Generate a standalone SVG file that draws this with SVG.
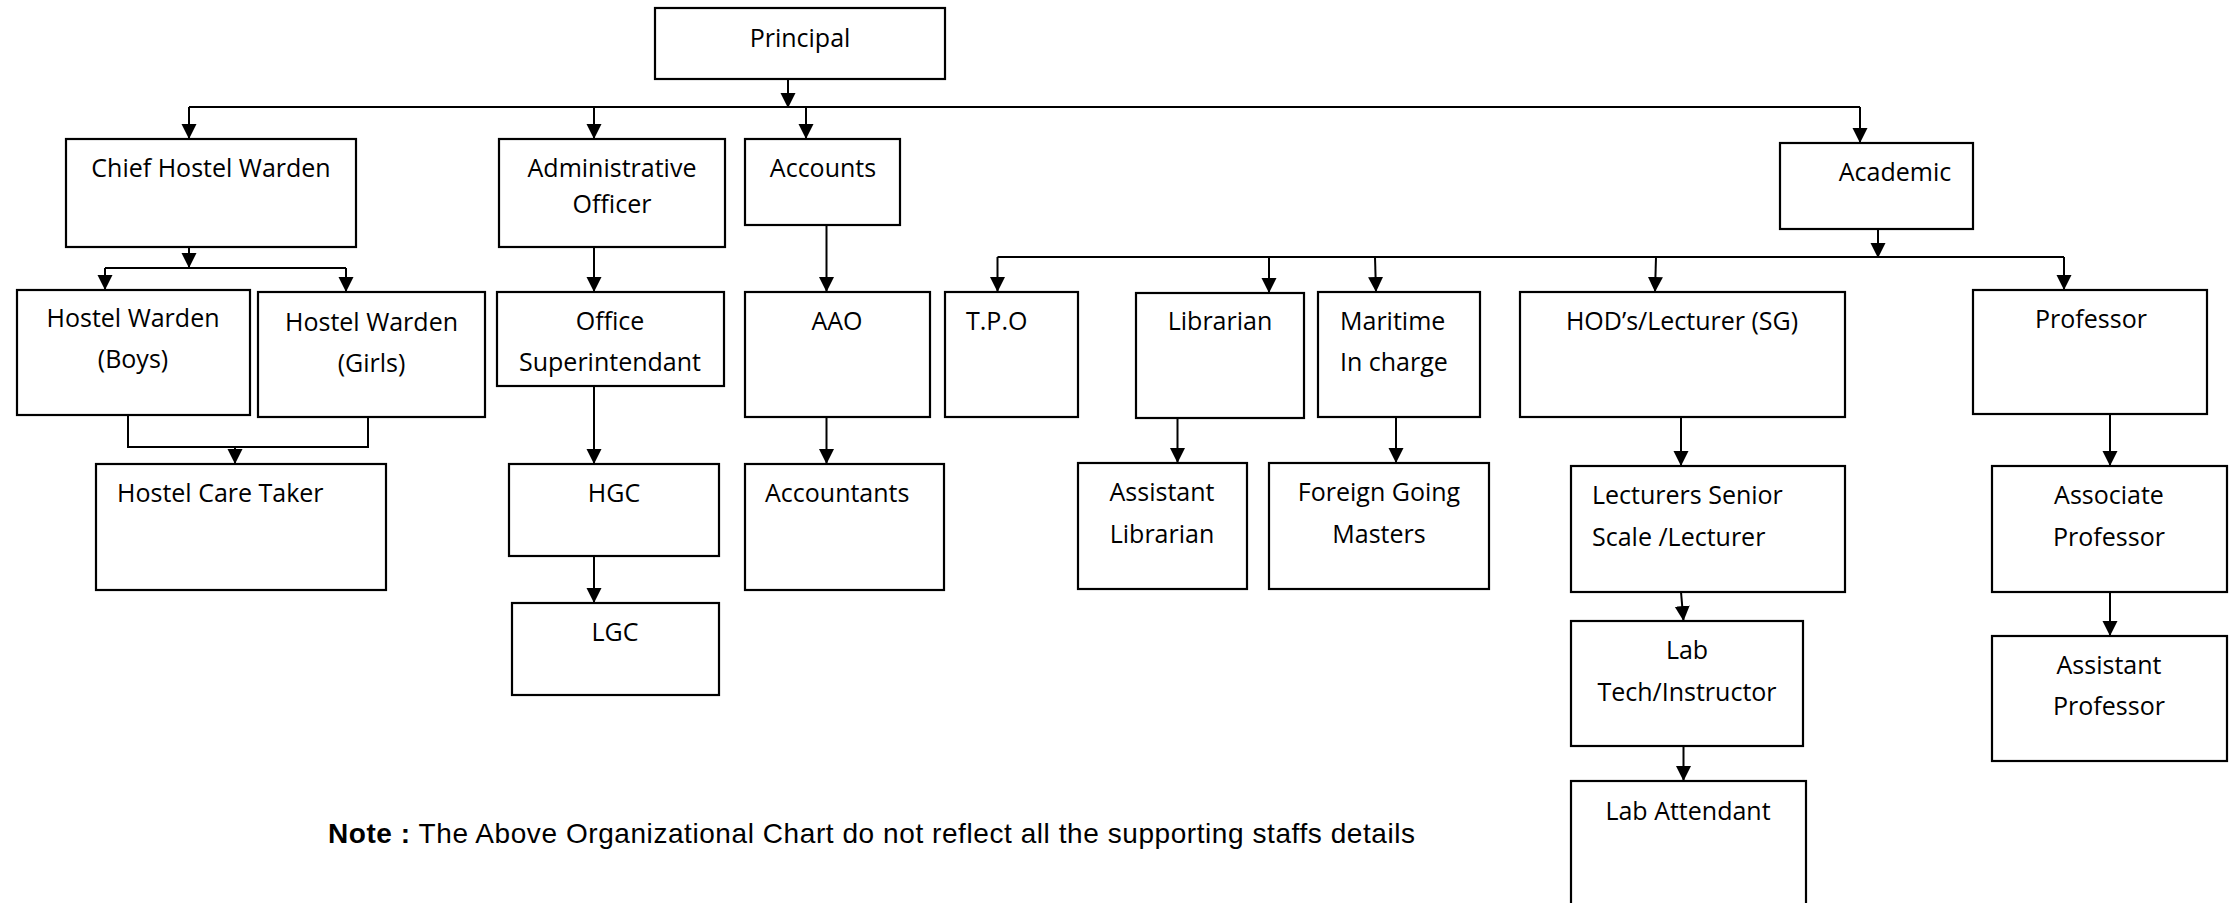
<svg xmlns="http://www.w3.org/2000/svg" width="2231" height="903" viewBox="0 0 2231 903">
  <style>
    .box { fill: #ffffff; stroke: #000000; stroke-width: 2.2; }
    .lbl { font-family: "Open Sans", "Liberation Sans", sans-serif; font-size: 25px; fill: #000000; }
    .c { text-anchor: middle; }
    .l { text-anchor: start; }
    .wire { fill: none; stroke: #000000; stroke-width: 2; }
    .arr { fill: none; stroke: #000000; stroke-width: 2; marker-end: url(#head); }
    .note { font-family: "Liberation Sans", Arial, sans-serif; font-size: 28px; fill: #000000; }
  </style>
  <defs>
    <marker id="head" markerUnits="userSpaceOnUse" markerWidth="16" markerHeight="16" refX="15" refY="7.5" orient="auto">
      <path d="M0,0 L15,7.5 L0,15 Z" fill="#000000"/>
    </marker>
  </defs>
  <rect width="2231" height="903" fill="#ffffff"/>

  <!-- connectors -->
  <g id="connectors">
    <line class="arr" x1="788" y1="79" x2="788" y2="108"/>
    <line class="wire" x1="189" y1="107" x2="1860" y2="107"/>
    <line class="arr" x1="189" y1="107" x2="189" y2="139"/>
    <line class="arr" x1="594" y1="107" x2="594" y2="139"/>
    <line class="arr" x1="806" y1="107" x2="806" y2="139"/>
    <line class="arr" x1="1860" y1="107" x2="1860" y2="143"/>

    <line class="arr" x1="189" y1="247" x2="189" y2="268"/>
    <line class="wire" x1="105" y1="268" x2="346" y2="268"/>
    <line class="arr" x1="105" y1="268" x2="105" y2="290"/>
    <line class="arr" x1="346" y1="268" x2="346" y2="292"/>

    <polyline class="wire" points="128,415 128,447 368,447 368,417"/>
    <line class="arr" x1="235" y1="447" x2="235" y2="464"/>

    <line class="arr" x1="594" y1="247" x2="594" y2="292"/>
    <line class="arr" x1="594" y1="386" x2="594" y2="464"/>
    <line class="arr" x1="594" y1="556" x2="594" y2="603"/>

    <line class="arr" x1="826.5" y1="225" x2="826.5" y2="292"/>
    <line class="arr" x1="826.5" y1="417" x2="826.5" y2="464"/>

    <line class="arr" x1="1878" y1="229" x2="1878" y2="258"/>
    <line class="wire" x1="997.5" y1="257" x2="2064" y2="257"/>
    <line class="arr" x1="997.5" y1="257" x2="997.5" y2="292"/>
    <line class="arr" x1="1269" y1="257" x2="1269" y2="293"/>
    <line class="arr" x1="1375" y1="257" x2="1376" y2="292"/>
    <line class="arr" x1="1656" y1="257" x2="1655" y2="292"/>
    <line class="arr" x1="2064" y1="257" x2="2064" y2="290"/>

    <line class="arr" x1="1177.5" y1="418" x2="1177.5" y2="463"/>
    <line class="arr" x1="1396" y1="417" x2="1396" y2="463"/>
    <line class="arr" x1="1681" y1="417" x2="1681" y2="466"/>
    <line class="arr" x1="1681" y1="592" x2="1683.5" y2="621"/>
    <line class="arr" x1="1683.5" y1="746" x2="1683.5" y2="781"/>
    <line class="arr" x1="2110" y1="414" x2="2110" y2="466"/>
    <line class="arr" x1="2110" y1="592" x2="2110" y2="636"/>
  </g>

  <!-- nodes -->
  <g id="principal">
    <rect class="box" x="655" y="8" width="290" height="71"/>
    <text class="lbl c" x="800" y="47">Principal</text>
  </g>
  <g id="chief-hostel-warden">
    <rect class="box" x="66" y="139" width="290" height="108"/>
    <text class="lbl c" x="211" y="177">Chief Hostel Warden</text>
  </g>
  <g id="administrative-officer">
    <rect class="box" x="499" y="139" width="226" height="108"/>
    <text class="lbl c" x="612" y="177">Administrative</text>
    <text class="lbl c" x="612" y="213">Officer</text>
  </g>
  <g id="accounts">
    <rect class="box" x="745" y="139" width="155" height="86"/>
    <text class="lbl c" x="823" y="177">Accounts</text>
  </g>
  <g id="academic">
    <rect class="box" x="1780" y="143" width="193" height="86"/>
    <text class="lbl c" x="1895" y="181">Academic</text>
  </g>
  <g id="hostel-warden-boys">
    <rect class="box" x="17" y="290" width="233" height="125"/>
    <text class="lbl c" x="133" y="327">Hostel Warden</text>
    <text class="lbl c" x="133" y="368">(Boys)</text>
  </g>
  <g id="hostel-warden-girls">
    <rect class="box" x="258" y="292" width="227" height="125"/>
    <text class="lbl c" x="371.5" y="331">Hostel Warden</text>
    <text class="lbl c" x="371.5" y="372">(Girls)</text>
  </g>
  <g id="office-superintendant">
    <rect class="box" x="497" y="292" width="227" height="94"/>
    <text class="lbl c" x="610" y="330">Office</text>
    <text class="lbl c" x="610" y="371">Superintendant</text>
  </g>
  <g id="aao">
    <rect class="box" x="745" y="292" width="185" height="125"/>
    <text class="lbl c" x="837" y="330">AAO</text>
  </g>
  <g id="tpo">
    <rect class="box" x="945" y="292" width="133" height="125"/>
    <text class="lbl l" x="966" y="330">T.P.O</text>
  </g>
  <g id="librarian">
    <rect class="box" x="1136" y="293" width="168" height="125"/>
    <text class="lbl c" x="1220" y="330">Librarian</text>
  </g>
  <g id="maritime-in-charge">
    <rect class="box" x="1318" y="292" width="162" height="125"/>
    <text class="lbl l" x="1340" y="330">Maritime</text>
    <text class="lbl l" x="1340" y="371">In charge</text>
  </g>
  <g id="hod-lecturer-sg">
    <rect class="box" x="1520" y="292" width="325" height="125"/>
    <text class="lbl c" x="1682" y="330">HOD’s/Lecturer (SG)</text>
  </g>
  <g id="professor">
    <rect class="box" x="1973" y="290" width="234" height="124"/>
    <text class="lbl c" x="2091" y="328">Professor</text>
  </g>
  <g id="hostel-care-taker">
    <rect class="box" x="96" y="464" width="290" height="126"/>
    <text class="lbl l" x="117" y="502">Hostel Care Taker</text>
  </g>
  <g id="hgc">
    <rect class="box" x="509" y="464" width="210" height="92"/>
    <text class="lbl c" x="614" y="502">HGC</text>
  </g>
  <g id="lgc">
    <rect class="box" x="512" y="603" width="207" height="92"/>
    <text class="lbl c" x="615" y="641">LGC</text>
  </g>
  <g id="accountants">
    <rect class="box" x="745" y="464" width="199" height="126"/>
    <text class="lbl l" x="765" y="502">Accountants</text>
  </g>
  <g id="assistant-librarian">
    <rect class="box" x="1078" y="463" width="169" height="126"/>
    <text class="lbl c" x="1162" y="501">Assistant</text>
    <text class="lbl c" x="1162" y="543">Librarian</text>
  </g>
  <g id="foreign-going-masters">
    <rect class="box" x="1269" y="463" width="220" height="126"/>
    <text class="lbl c" x="1379" y="501">Foreign Going</text>
    <text class="lbl c" x="1379" y="543">Masters</text>
  </g>
  <g id="lecturers-senior-scale">
    <rect class="box" x="1571" y="466" width="274" height="126"/>
    <text class="lbl l" x="1592" y="504">Lecturers Senior</text>
    <text class="lbl l" x="1592" y="546">Scale /Lecturer</text>
  </g>
  <g id="lab-tech-instructor">
    <rect class="box" x="1571" y="621" width="232" height="125"/>
    <text class="lbl c" x="1687" y="659">Lab</text>
    <text class="lbl c" x="1687" y="701">Tech/Instructor</text>
  </g>
  <g id="lab-attendant">
    <rect class="box" x="1571" y="781" width="235" height="140"/>
    <text class="lbl c" x="1688" y="820">Lab Attendant</text>
  </g>
  <g id="associate-professor">
    <rect class="box" x="1992" y="466" width="235" height="126"/>
    <text class="lbl c" x="2109" y="504">Associate</text>
    <text class="lbl c" x="2109" y="546">Professor</text>
  </g>
  <g id="assistant-professor">
    <rect class="box" x="1992" y="636" width="235" height="125"/>
    <text class="lbl c" x="2109" y="674">Assistant</text>
    <text class="lbl c" x="2109" y="715">Professor</text>
  </g>

  <text class="note" x="328" y="843" textLength="1087" lengthAdjust="spacing"><tspan font-weight="bold">Note :</tspan> The Above Organizational Chart do not reflect all the supporting staffs details</text>
</svg>
